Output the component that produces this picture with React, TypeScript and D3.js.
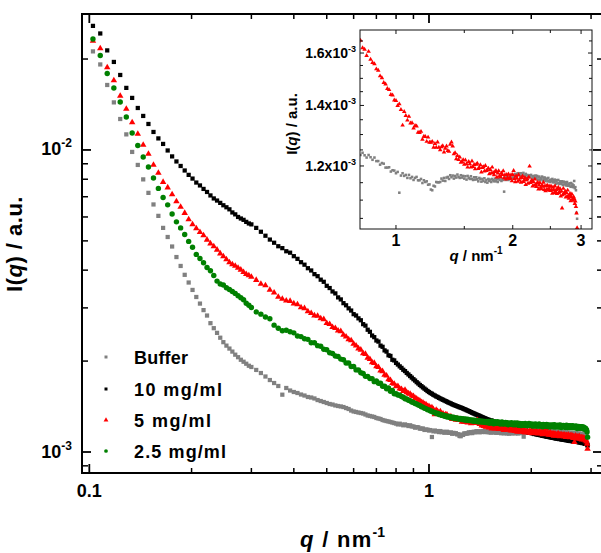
import React from "react";
import * as d3 from "d3";

// q grid (nm^-1)
const qValues = [
  0.1025, 0.1077, 0.1129, 0.1181, 0.1233, 0.1285, 0.1337, 0.1389, 0.1441, 0.1493,
  0.1545, 0.1597, 0.1649, 0.1701, 0.1753, 0.1805, 0.1857, 0.1909, 0.1961, 0.2013,
  0.2065, 0.2117, 0.2169, 0.2221, 0.2273, 0.2325, 0.2377, 0.2429, 0.2481, 0.2533,
  0.2585, 0.2637, 0.2689, 0.2741, 0.2793, 0.2845, 0.2897, 0.2949,
  0.30, 0.31, 0.32, 0.33, 0.34, 0.35, 0.36, 0.37, 0.38, 0.39,
  0.40, 0.41, 0.42, 0.43, 0.44, 0.45, 0.46, 0.47, 0.48, 0.49,
  0.50, 0.51, 0.52, 0.53, 0.54, 0.55, 0.56, 0.57, 0.58, 0.59,
  0.60, 0.61, 0.62, 0.63, 0.64, 0.65, 0.66, 0.67, 0.68, 0.69,
  0.70, 0.71, 0.72, 0.73, 0.74, 0.75, 0.76, 0.77, 0.78, 0.79,
  0.80, 0.81, 0.82, 0.83, 0.84, 0.85, 0.86, 0.87, 0.88, 0.89,
  0.90, 0.91, 0.92, 0.93, 0.94, 0.95, 0.96, 0.97, 0.98, 0.99,
  1.00, 1.01, 1.02, 1.03, 1.04, 1.05, 1.06, 1.07, 1.08, 1.09,
  1.10, 1.11, 1.12, 1.13, 1.14, 1.15, 1.16, 1.17, 1.18, 1.19,
  1.20, 1.21, 1.22, 1.23, 1.24, 1.25, 1.26, 1.27, 1.28, 1.29,
  1.30, 1.31, 1.32, 1.33, 1.34, 1.35, 1.36, 1.37, 1.38, 1.39,
  1.40, 1.41, 1.42, 1.43, 1.44, 1.45, 1.46, 1.47, 1.48, 1.49,
  1.50, 1.51, 1.52, 1.53, 1.54, 1.55, 1.56, 1.57, 1.58, 1.59,
  1.60, 1.61, 1.62, 1.63, 1.64, 1.65, 1.66, 1.67, 1.68, 1.69,
  1.70, 1.71, 1.72, 1.73, 1.74, 1.75, 1.76, 1.77, 1.78, 1.79,
  1.80, 1.81, 1.82, 1.83, 1.84, 1.85, 1.86, 1.87, 1.88, 1.89,
  1.90, 1.91, 1.92, 1.93, 1.94, 1.95, 1.96, 1.97, 1.98, 1.99,
  2.00, 2.01, 2.02, 2.03, 2.04, 2.05, 2.06, 2.07, 2.08, 2.09,
  2.10, 2.11, 2.12, 2.13, 2.14, 2.15, 2.16, 2.17, 2.18, 2.19,
  2.20, 2.21, 2.22, 2.23, 2.24, 2.25, 2.26, 2.27, 2.28, 2.29,
  2.30, 2.31, 2.32, 2.33, 2.34, 2.35, 2.36, 2.37, 2.38, 2.39,
  2.40, 2.41, 2.42, 2.43, 2.44, 2.45, 2.46, 2.47, 2.48, 2.49,
  2.50, 2.51, 2.52, 2.53, 2.54, 2.55, 2.56, 2.57, 2.58, 2.59,
  2.60, 2.61, 2.62, 2.63, 2.64, 2.65, 2.66, 2.67, 2.68, 2.69,
  2.70, 2.71, 2.72, 2.73, 2.74, 2.75, 2.76, 2.77, 2.78, 2.79,
  2.80, 2.81, 2.82, 2.83, 2.84, 2.85, 2.86, 2.87, 2.88, 2.89,
  2.90, 2.91, 2.92, 2.93,
];

// I(q) in units of 10^-3 a.u.
const bufferValues = [
  21.20, 19.19, 16.41, 14.37, 12.66, 11.26, 9.85, 8.92, 7.99, 7.21,
  6.60, 6.05, 5.52, 5.15, 4.79, 4.42, 4.13, 3.86, 3.64, 3.44,
  3.26, 3.10, 2.95, 2.83, 2.67, 2.57, 2.48, 2.39, 2.31, 2.25,
  2.20, 2.15, 2.10, 2.06, 2.02, 1.99, 1.96, 1.93,
  1.912, 1.869, 1.826, 1.778, 1.731, 1.692, 1.654, 1.548, 1.629, 1.598,
  1.580, 1.568, 1.550, 1.538, 1.521, 1.515, 1.504, 1.486, 1.475, 1.464,
  1.453, 1.442, 1.436, 1.426, 1.420, 1.415, 1.409, 1.398, 1.388, 1.372,
  1.362, 1.357, 1.351, 1.346, 1.341, 1.331, 1.321, 1.316, 1.311, 1.306,
  1.296, 1.291, 1.286, 1.276, 1.271, 1.266, 1.262, 1.257, 1.252, 1.247,
  1.242, 1.234, 1.241, 1.233, 1.226, 1.234, 1.227, 1.219, 1.226, 1.215,
  1.215, 1.204, 1.209, 1.207, 1.195, 1.195, 1.196, 1.183, 1.187, 1.186,
  1.178, 1.182, 1.121, 1.171, 1.178, 1.170, 1.173, 1.164, 1.173, 1.163,
  1.167, 1.158, 1.164, 1.167, 1.157, 1.157, 1.161, 1.149, 1.157, 1.152,
  1.154, 1.144, 1.145, 1.130, 1.128, 1.141, 1.139, 1.152, 1.151, 1.151,
  1.152, 1.162, 1.156, 1.164, 1.155, 1.165, 1.167, 1.161, 1.172, 1.166,
  1.171, 1.162, 1.170, 1.165, 1.174, 1.167, 1.164, 1.172, 1.165, 1.170,
  1.162, 1.169, 1.159, 1.170, 1.164, 1.161, 1.169, 1.161, 1.158, 1.166,
  1.159, 1.166, 1.160, 1.154, 1.164, 1.161, 1.153, 1.161, 1.155, 1.163,
  1.152, 1.158, 1.150, 1.161, 1.155, 1.159, 1.152, 1.161, 1.157, 1.154,
  1.162, 1.154, 1.160, 1.152, 1.162, 1.158, 1.165, 1.155, 1.161, 1.158,
  1.124, 1.165, 1.158, 1.167, 1.161, 1.158, 1.167, 1.166, 1.161, 1.172,
  1.164, 1.172, 1.167, 1.176, 1.166, 1.174, 1.178, 1.173, 1.178, 1.171,
  1.178, 1.169, 1.175, 1.179, 1.170, 1.171, 1.176, 1.165, 1.173, 1.170,
  1.166, 1.172, 1.168, 1.173, 1.162, 1.169, 1.164, 1.170, 1.164, 1.171,
  1.163, 1.170, 1.159, 1.166, 1.168, 1.159, 1.164, 1.160, 1.168, 1.156,
  1.165, 1.159, 1.165, 1.155, 1.160, 1.162, 1.154, 1.164, 1.154, 1.157,
  1.152, 1.159, 1.155, 1.161, 1.151, 1.157, 1.152, 1.159, 1.147, 1.154,
  1.157, 1.148, 1.158, 1.149, 1.146, 1.154, 1.151, 1.147, 1.154, 1.143,
  1.151, 1.153, 1.145, 1.151, 1.142, 1.147, 1.152, 1.141, 1.144, 1.147,
  1.141, 1.148, 1.138, 1.149, 1.140, 1.145, 1.137, 1.142, 1.155, 1.134,
  1.137, 1.128, 1.065, 1.049,
];

const conc10Values = [
  25.75, 24.30, 21.36, 19.56, 17.71, 16.05, 14.87, 13.77, 12.96, 12.19,
  11.47, 10.92, 10.47, 9.96, 9.52, 9.16, 8.85, 8.55, 8.27, 8.04,
  7.80, 7.63, 7.43, 7.26, 7.07, 6.91, 6.80, 6.68, 6.56, 6.46,
  6.36, 6.21, 6.12, 6.00, 5.93, 5.87, 5.78, 5.71,
  5.67, 5.52, 5.36, 5.20, 5.05, 4.93, 4.80, 4.73, 4.62, 4.57,
  4.45, 4.36, 4.25, 4.17, 4.06, 3.99, 3.88, 3.82, 3.72, 3.66,
  3.55, 3.49, 3.40, 3.35, 3.25, 3.20, 3.11, 3.06, 2.99, 2.94,
  2.86, 2.83, 2.77, 2.73, 2.65, 2.62, 2.54, 2.50, 2.43, 2.40,
  2.34, 2.32, 2.25, 2.23, 2.17, 2.15, 2.09, 2.08, 2.02, 2.01,
  1.972, 1.948, 1.921, 1.899, 1.872, 1.853, 1.827, 1.806, 1.784, 1.763,
  1.742, 1.724, 1.703, 1.686, 1.667, 1.652, 1.636, 1.621, 1.607, 1.592,
  1.580, 1.568, 1.559, 1.547, 1.538, 1.528, 1.521, 1.511, 1.504, 1.495,
  1.489, 1.481, 1.474, 1.467, 1.459, 1.453, 1.447, 1.440, 1.434, 1.428,
  1.423, 1.418, 1.413, 1.407, 1.403, 1.398, 1.393, 1.387, 1.383, 1.376,
  1.371, 1.366, 1.360, 1.355, 1.349, 1.344, 1.340, 1.334, 1.330, 1.325,
  1.321, 1.316, 1.311, 1.306, 1.302, 1.297, 1.293, 1.289, 1.284, 1.280,
  1.278, 1.270, 1.271, 1.271, 1.261, 1.260, 1.260, 1.250, 1.252, 1.250,
  1.243, 1.245, 1.238, 1.233, 1.237, 1.232, 1.226, 1.227, 1.219, 1.223,
  1.217, 1.217, 1.210, 1.215, 1.206, 1.207, 1.207, 1.198, 1.199, 1.199,
  1.192, 1.195, 1.192, 1.185, 1.190, 1.184, 1.185, 1.179, 1.183, 1.174,
  1.177, 1.172, 1.174, 1.166, 1.169, 1.170, 1.162, 1.162, 1.157, 1.161,
  1.155, 1.158, 1.153, 1.154, 1.147, 1.150, 1.151, 1.144, 1.145, 1.145,
  1.139, 1.142, 1.141, 1.136, 1.141, 1.134, 1.131, 1.135, 1.132, 1.128,
  1.132, 1.126, 1.128, 1.123, 1.126, 1.127, 1.121, 1.119, 1.123, 1.118,
  1.119, 1.114, 1.118, 1.118, 1.112, 1.113, 1.108, 1.113, 1.111, 1.107,
  1.111, 1.106, 1.103, 1.107, 1.105, 1.101, 1.107, 1.099, 1.101, 1.102,
  1.097, 1.101, 1.096, 1.094, 1.098, 1.096, 1.092, 1.097, 1.089, 1.093,
  1.093, 1.087, 1.091, 1.092, 1.086, 1.088, 1.083, 1.088, 1.087, 1.083,
  1.087, 1.082, 1.080, 1.084, 1.082, 1.078, 1.084, 1.076, 1.078, 1.079,
  1.074, 1.078, 1.073, 1.070, 1.074, 1.072, 1.068, 1.072, 1.064, 1.068,
  1.066, 1.063, 1.060, 1.052,
];

const conc5Values = [
  22.96, 21.68, 18.76, 16.99, 15.10, 13.67, 12.34, 11.30, 10.39, 9.70,
  8.92, 8.39, 7.83, 7.51, 7.12, 6.75, 6.48, 6.18, 5.89, 5.67,
  5.50, 5.34, 5.21, 5.04, 4.90, 4.79, 4.67, 4.54, 4.44, 4.34,
  4.24, 4.18, 4.13, 4.07, 4.01, 3.94, 3.88, 3.84,
  3.80, 3.71, 3.60, 3.56, 3.44, 3.37, 3.26, 3.21, 3.17, 3.16,
  3.10, 3.08, 3.01, 2.99, 2.92, 2.88, 2.83, 2.82, 2.77, 2.75,
  2.67, 2.65, 2.59, 2.57, 2.52, 2.51, 2.44, 2.41, 2.36, 2.34,
  2.28, 2.25, 2.20, 2.18, 2.12, 2.11, 2.05, 2.03, 1.98, 1.97,
  1.92, 1.91, 1.86, 1.85, 1.80, 1.79, 1.74, 1.73, 1.69, 1.68,
  1.648, 1.652, 1.621, 1.615, 1.589, 1.606, 1.574, 1.561, 1.556, 1.536,
  1.531, 1.509, 1.502, 1.484, 1.478, 1.461, 1.457, 1.439, 1.437, 1.419,
  1.417, 1.399, 1.405, 1.385, 1.331, 1.378, 1.364, 1.348, 1.361, 1.338,
  1.339, 1.321, 1.330, 1.328, 1.307, 1.306, 1.310, 1.284, 1.294, 1.293,
  1.277, 1.291, 1.274, 1.274, 1.277, 1.258, 1.270, 1.258, 1.275, 1.258,
  1.250, 1.260, 1.263, 1.243, 1.255, 1.262, 1.248, 1.245, 1.268, 1.275,
  1.262, 1.237, 1.241, 1.222, 1.232, 1.219, 1.227, 1.211, 1.213, 1.219,
  1.205, 1.218, 1.206, 1.196, 1.213, 1.206, 1.196, 1.215, 1.198, 1.204,
  1.191, 1.205, 1.208, 1.192, 1.195, 1.203, 1.181, 1.195, 1.197, 1.184,
  1.201, 1.186, 1.188, 1.193, 1.176, 1.189, 1.178, 1.196, 1.180, 1.173,
  1.183, 1.186, 1.166, 1.178, 1.185, 1.171, 1.167, 1.178, 1.174, 1.185,
  1.164, 1.173, 1.160, 1.174, 1.165, 1.175, 1.162, 1.165, 1.173, 1.155,
  1.174, 1.186, 1.162, 1.152, 1.170, 1.163, 1.154, 1.173, 1.157, 1.163,
  1.151, 1.165, 1.169, 1.153, 1.157, 1.165, 1.144, 1.158, 1.161, 1.148,
  1.166, 1.199, 1.150, 1.152, 1.157, 1.140, 1.153, 1.142, 1.160, 1.144,
  1.138, 1.148, 1.151, 1.131, 1.143, 1.150, 1.136, 1.132, 1.143, 1.139,
  1.151, 1.130, 1.140, 1.126, 1.141, 1.131, 1.142, 1.128, 1.132, 1.139,
  1.127, 1.140, 1.129, 1.119, 1.137, 1.130, 1.121, 1.140, 1.124, 1.130,
  1.118, 1.132, 1.136, 1.120, 1.124, 1.132, 1.111, 1.125, 1.078, 1.115,
  1.133, 1.118, 1.120, 1.125, 1.108, 1.121, 1.110, 1.128, 1.112, 1.105,
  1.115, 1.118, 1.098, 1.110, 1.117, 1.103, 1.099, 1.109, 1.104, 1.090,
  1.097, 1.082, 1.064, 1.025,
];

const conc25Values = [
  23.31, 20.55, 17.92, 16.04, 14.42, 12.86, 11.38, 10.35, 9.48, 8.78,
  8.08, 7.46, 6.96, 6.58, 6.14, 5.78, 5.52, 5.25, 4.98, 4.76,
  4.51, 4.37, 4.23, 4.08, 3.98, 3.84, 3.68, 3.60, 3.57, 3.50,
  3.45, 3.40, 3.35, 3.29, 3.24, 3.19, 3.11, 3.06,
  3.01, 2.91, 2.86, 2.80, 2.76, 2.63, 2.57, 2.52, 2.53, 2.50,
  2.48, 2.42, 2.41, 2.37, 2.36, 2.30, 2.30, 2.25, 2.24, 2.19,
  2.18, 2.13, 2.12, 2.08, 2.07, 2.03, 2.02, 1.97, 1.97, 1.92,
  1.92, 1.87, 1.87, 1.83, 1.82, 1.78, 1.78, 1.75, 1.75, 1.71,
  1.72, 1.69, 1.69, 1.65, 1.65, 1.62, 1.63, 1.59, 1.60, 1.56,
  1.560, 1.545, 1.541, 1.527, 1.519, 1.501, 1.497, 1.483, 1.478, 1.464,
  1.458, 1.447, 1.443, 1.430, 1.426, 1.412, 1.408, 1.396, 1.392, 1.381,
  1.377, 1.367, 1.365, 1.354, 1.352, 1.341, 1.343, 1.331, 1.334, 1.322,
  1.326, 1.314, 1.319, 1.306, 1.313, 1.300, 1.308, 1.296, 1.304, 1.291,
  1.299, 1.287, 1.295, 1.283, 1.292, 1.280, 1.289, 1.277, 1.286, 1.274,
  1.283, 1.271, 1.280, 1.268, 1.277, 1.265, 1.274, 1.263, 1.272, 1.260,
  1.269, 1.258, 1.267, 1.256, 1.265, 1.254, 1.263, 1.252, 1.261, 1.250,
  1.261, 1.245, 1.257, 1.264, 1.248, 1.240, 1.259, 1.250, 1.244, 1.259,
  1.245, 1.254, 1.237, 1.250, 1.258, 1.238, 1.246, 1.239, 1.253, 1.241,
  1.251, 1.231, 1.244, 1.246, 1.235, 1.250, 1.237, 1.231, 1.243, 1.247,
  1.231, 1.241, 1.248, 1.232, 1.227, 1.242, 1.237, 1.223, 1.241, 1.233,
  1.239, 1.225, 1.242, 1.229, 1.233, 1.221, 1.237, 1.243, 1.225, 1.228,
  1.238, 1.226, 1.218, 1.236, 1.232, 1.222, 1.238, 1.227, 1.218, 1.231,
  1.222, 1.238, 1.228, 1.218, 1.232, 1.222, 1.213, 1.234, 1.225, 1.218,
  1.231, 1.222, 1.233, 1.214, 1.227, 1.217, 1.230, 1.211, 1.224, 1.227,
  1.217, 1.230, 1.213, 1.222, 1.232, 1.210, 1.224, 1.218, 1.213, 1.227,
  1.222, 1.210, 1.224, 1.228, 1.214, 1.206, 1.224, 1.217, 1.211, 1.225,
  1.214, 1.222, 1.206, 1.219, 1.226, 1.208, 1.215, 1.204, 1.221, 1.210,
  1.222, 1.208, 1.215, 1.204, 1.219, 1.223, 1.207, 1.202, 1.212, 1.215,
  1.204, 1.219, 1.207, 1.197, 1.213, 1.208, 1.215, 1.199, 1.210, 1.202,
  1.212, 1.200, 1.212, 1.196, 1.203, 1.211, 1.191, 1.201, 1.191, 1.200,
  1.188, 1.182, 1.165, 1.120,
];

const seriesNames = ["Buffer", "10 mg/ml", "5 mg/ml", "2.5 mg/ml"];
const seriesColors = ["#808080", "#000000", "#ff0000", "#008000"];

// axis ticks
const xMajorTicks = [0.1, 1];
const xMinorTicks = [0.2, 0.3, 0.4, 0.5, 0.6, 0.7, 0.8, 0.9, 2, 3];
const yMajorTicks = [1e-3, 1e-2];
const yMinorTicks = [9e-4, 2e-3, 3e-3, 4e-3, 5e-3, 6e-3, 7e-3, 8e-3, 9e-3, 2e-2];
const yTickExponents = ["-3", "-2"];
const xTickLabels = ["0.1", "1"];

const insetXTicks = [1, 1.5, 2, 2.5, 3];
const insetXLabels = [1, 2, 3];
const insetYTicks = [1.05, 1.1, 1.15, 1.2, 1.25, 1.3, 1.35, 1.4, 1.45, 1.5, 1.55, 1.6, 1.65];
const insetYLabels = [1.2, 1.4, 1.6];

const FONT = "'Liberation Sans', Arial, Helvetica, sans-serif";

export default function App() {
  // main plot frame
  const L = 82, R = 603, T = 14, B = 473;
  const x = d3.scaleLog().domain([0.09516, 3.253]).range([L, R]);
  const y = d3.scaleLog().domain([8.521e-4, 2.819e-2]).range([B, T]);

  // inset frame
  const iL = 360, iR = 592, iT = 30, iB = 229;
  const xi = d3.scaleLog().domain([0.8077, 3.201]).range([iL, iR]);
  const yi = d3.scaleLog().domain([1.022e-3, 1.6966e-3]).range([iB, iT]);

  const sq = d3.symbol().type(d3.symbolSquare).size(18)() as string;
  const tri = d3.symbol().type(d3.symbolTriangle).size(18)() as string;
  const circ = d3.symbol().type(d3.symbolCircle).size(23)() as string;
  const sqSmall = d3.symbol().type(d3.symbolSquare).size(6.5)() as string;
  const triSmall = d3.symbol().type(d3.symbolTriangle).size(9)() as string;
  const sqLeg = d3.symbol().type(d3.symbolSquare).size(9)() as string;
  const triLeg = d3.symbol().type(d3.symbolTriangle).size(10)() as string;
  const circLeg = d3.symbol().type(d3.symbolCircle).size(11)() as string;

  const allSeries = [bufferValues, conc10Values, conc5Values, conc25Values];
  const mainShapes = [sq, sq, tri, circ];
  const legShapes = [sqLeg, sqLeg, triLeg, circLeg];

  const renderPoints = (vals: number[], shape: string, color: string, sx: any, sy: any, key: string) =>
    vals.map((v, i) => (
      <path
        key={key + i}
        d={shape}
        fill={color}
        transform={`translate(${sx(qValues[i]).toFixed(2)},${sy(v * 1e-3).toFixed(2)})`}
      />
    ));

  const legendY = [357, 389, 420, 451];
  const legendLen = [54, 88, 77, 92];

  return (
    <svg
      width={601}
      height={553}
      style={{ position: "absolute", left: 0, top: 0, fontFamily: FONT, fontWeight: "bold" }}
    >
      <defs>
        <clipPath id="mainClip">
          <rect x={L} y={T} width={R - L} height={B - T} />
        </clipPath>
        <clipPath id="insetClip">
          <rect x={iL} y={iT} width={iR - iL} height={iB - iT} />
        </clipPath>
      </defs>
      <rect x={0} y={0} width={601} height={553} fill="#ffffff" />

      {/* main data */}
      <g clipPath="url(#mainClip)">
        {allSeries.map((vals, s) => (
          <g key={"s" + s}>{renderPoints(vals, mainShapes[s], seriesColors[s], x, y, "m" + s)}</g>
        ))}
      </g>

      {/* main frame */}
      <rect x={L} y={T} width={R - L} height={B - T} fill="none" stroke="#000" strokeWidth={2} />
      {xMajorTicks.map((t) => (
        <g key={"xM" + t} stroke="#000" strokeWidth={1.8}>
          <line x1={x(t)} x2={x(t)} y1={B} y2={B - 9} />
          <line x1={x(t)} x2={x(t)} y1={T} y2={T + 9} />
        </g>
      ))}
      {xMinorTicks.map((t) => (
        <g key={"xm" + t} stroke="#000" strokeWidth={1.5}>
          <line x1={x(t)} x2={x(t)} y1={B} y2={B - 5} />
          <line x1={x(t)} x2={x(t)} y1={T} y2={T + 5} />
        </g>
      ))}
      {yMajorTicks.map((t) => (
        <g key={"yM" + t} stroke="#000" strokeWidth={1.8}>
          <line x1={L} x2={L + 9} y1={y(t)} y2={y(t)} />
          <line x1={R} x2={R - 10} y1={y(t)} y2={y(t)} />
        </g>
      ))}
      {yMinorTicks.map((t) => (
        <g key={"ym" + t} stroke="#000" strokeWidth={1.5}>
          <line x1={L} x2={L + 6} y1={y(t)} y2={y(t)} />
          <line x1={R} x2={R - 6} y1={y(t)} y2={y(t)} />
        </g>
      ))}
      {yMajorTicks.map((t, i) => (
        <text key={"yl" + t} x={72} y={y(t) + 5.5} textAnchor="end" fontSize={18} fill="#000">
          10<tspan dy={-8} fontSize={12}>{yTickExponents[i]}</tspan>
        </text>
      ))}
      {xMajorTicks.map((t, i) => (
        <text key={"xl" + t} x={x(t)} y={497} textAnchor="middle" fontSize={18} fill="#000">
          {xTickLabels[i]}
        </text>
      ))}

      {/* axis titles */}
      <text x={300} y={547} fontSize={22} fill="#000" letterSpacing={1.3}>
        <tspan fontStyle="italic">q</tspan>
        {" / nm"}
        <tspan dy={-10} fontSize={14} letterSpacing={0}>-1</tspan>
      </text>
      <text transform="translate(22,244) rotate(-90)" textAnchor="middle" fontSize={22} fill="#000" letterSpacing={0.5}>
        {"I("}
        <tspan fontStyle="italic">q</tspan>
        {") / a.u."}
      </text>

      {/* legend */}
      {seriesNames.map((name, s) => (
        <g key={"leg" + s}>
          <path d={legShapes[s]} fill={seriesColors[s]} transform={`translate(106,${legendY[s]})`} />
          <text x={134} y={legendY[s] + 6.5} fontSize={18} fill="#000" textLength={legendLen[s]} lengthAdjust="spacing">
            {name}
          </text>
        </g>
      ))}

      {/* inset */}
      <rect x={iL} y={iT} width={iR - iL} height={iB - iT} fill="#ffffff" />
      <g clipPath="url(#insetClip)">
        {renderPoints(bufferValues, sqSmall, seriesColors[0], xi, yi, "ib")}
        {renderPoints(conc5Values, triSmall, seriesColors[2], xi, yi, "ir")}
      </g>
      <rect x={iL} y={iT} width={iR - iL} height={iB - iT} fill="none" stroke="#111" strokeWidth={1} />
      {insetXTicks.map((t) => {
        const len = insetXLabels.includes(t) ? 4 : 3;
        return (
          <g key={"ixt" + t} stroke="#111" strokeWidth={1}>
            <line x1={xi(t)} x2={xi(t)} y1={iB} y2={iB - len} />
            <line x1={xi(t)} x2={xi(t)} y1={iT} y2={iT + len} />
          </g>
        );
      })}
      {insetYTicks.map((t) => {
        const len = insetYLabels.includes(t) ? 4 : 3;
        return (
          <g key={"iyt" + t} stroke="#111" strokeWidth={1}>
            <line x1={iL} x2={iL + len} y1={yi(t * 1e-3)} y2={yi(t * 1e-3)} />
            <line x1={iR} x2={iR - len} y1={yi(t * 1e-3)} y2={yi(t * 1e-3)} />
          </g>
        );
      })}
      {insetYLabels.map((t) => (
        <text key={"iyl" + t} x={356} y={yi(t * 1e-3) + 5} textAnchor="end" fontSize={14} fill="#000">
          {t.toFixed(1) + "x10"}
          <tspan dy={-6} fontSize={9}>-3</tspan>
        </text>
      ))}
      {insetXLabels.map((t) => (
        <text key={"ixl" + t} x={xi(t)} y={246} textAnchor="middle" fontSize={16} fill="#000">
          {t}
        </text>
      ))}
      <text x={476} y={261} textAnchor="middle" fontSize={15} fill="#000">
        <tspan fontStyle="italic">q</tspan>
        {" / nm"}
        <tspan dy={-7} fontSize={10}>-1</tspan>
      </text>
      <text transform="translate(297,124) rotate(-90)" textAnchor="middle" fontSize={15} fill="#000">
        {"I("}
        <tspan fontStyle="italic">q</tspan>
        {") / a.u."}
      </text>
    </svg>
  );
}
